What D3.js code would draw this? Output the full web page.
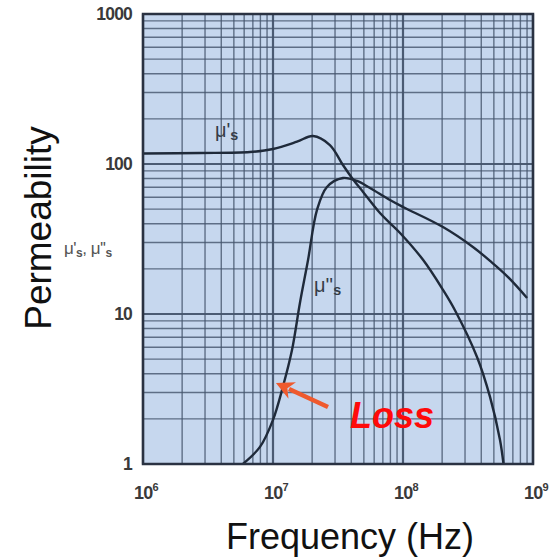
<!DOCTYPE html>
<html>
<head>
<meta charset="utf-8">
<script src="https://cdn.jsdelivr.net/npm/d3@7"></script>
<style>
  body { margin: 0; background: #fff; }
  svg { display: block; }
</style>
</head>
<body>
<svg id="chart"></svg>
<script>
const width = 552;
const height = 557;

const freqReal = [1e6, 2.74e6, 6.65e6, 1e7, 1.53e7, 2.03e7, 2.74e7, 3.45e7, 4.05e7, 4.93e7, 6.65e7, 7.94e7, 9.49e7, 1.43e8, 2.03e8, 2.51e8, 3.71e8, 4.67e8, 5.57e8, 5.93e8];
const muReal   = [117.5, 118.4, 120.2, 125.9, 140.8, 153.7, 133.8, 98.5, 80.7, 65.1, 47.1, 40.4, 34.7, 22.9, 14.5, 10.6, 5.17, 2.8, 1.45, 1.0];

// imaginary permeability μ''s (loss)
const freqLoss = [5.87e6, 7.94e6, 1e7, 1.19e7, 1.4e7, 1.61e7, 1.86e7, 2.18e7, 2.6e7, 3.45e7, 4.43e7, 5.57e7, 7.94e7, 1e8, 2.03e8, 3.45e8, 4.67e8, 6.31e8, 9e8];
const muLoss   = [1.0, 1.3, 1.97, 3.26, 5.75, 11.8, 22.9, 49.4, 70.3, 80.7, 77.1, 69.2, 57.5, 51.7, 38, 28, 22.6, 17.9, 12.8];

const xDecades = [6, 7, 8, 9];
const yTickValues = [1, 10, 100, 1000];

const margin = {top: 14, right: 19, bottom: 93, left: 143};
const innerW = width - margin.left - margin.right;
const innerH = height - margin.top - margin.bottom;

const x = d3.scaleLog().domain([1e6, 1e9]).range([margin.left, margin.left + innerW]);
const y = d3.scaleLog().domain([1, 1000]).range([margin.top + innerH, margin.top]);

const svg = d3.select("#chart")
  .attr("width", width)
  .attr("height", height)
  .attr("viewBox", [0, 0, width, height]);

svg.append("defs").append("clipPath").attr("id", "plot-clip")
  .append("rect")
  .attr("x", margin.left).attr("y", margin.top)
  .attr("width", innerW).attr("height", innerH);

// background
svg.append("rect")
  .attr("x", margin.left).attr("y", margin.top)
  .attr("width", innerW).attr("height", innerH)
  .attr("fill", "#c6d7ee");

// grid lines (1..9 per decade)
const gridColor = "#44546c";
const grid = svg.append("g");
const isDecade = v => Math.abs(Math.log10(v) - Math.round(Math.log10(v))) < 1e-9;

grid.selectAll("line.vx")
  .data(x.ticks())
  .join("line")
  .attr("class", "vx")
  .attr("x1", d => x(d)).attr("x2", d => x(d))
  .attr("y1", margin.top).attr("y2", margin.top + innerH)
  .attr("stroke", gridColor)
  .attr("stroke-opacity", d => isDecade(d) ? 0.95 : 0.8)
  .attr("stroke-width", d => isDecade(d) ? 2.2 : 1.4);

grid.selectAll("line.hy")
  .data(y.ticks())
  .join("line")
  .attr("class", "hy")
  .attr("y1", d => y(d)).attr("y2", d => y(d))
  .attr("x1", margin.left).attr("x2", margin.left + innerW)
  .attr("stroke", gridColor)
  .attr("stroke-opacity", d => isDecade(d) ? 0.95 : 0.8)
  .attr("stroke-width", d => isDecade(d) ? 2.2 : 1.4);

// curves
const line = d3.line()
  .x(d => x(d[0]))
  .y(d => y(d[1]))
  .curve(d3.curveCatmullRom.alpha(0.5));

const curves = svg.append("g").attr("clip-path", "url(#plot-clip)");
curves.append("path")
  .attr("d", line(d3.zip(freqReal, muReal)))
  .attr("fill", "none")
  .attr("stroke", "#1f2a3a")
  .attr("stroke-width", 2.4);
curves.append("path")
  .attr("d", line(d3.zip(freqLoss, muLoss)))
  .attr("fill", "none")
  .attr("stroke", "#1f2a3a")
  .attr("stroke-width", 2.4);

// frame
svg.append("rect")
  .attr("x", margin.left).attr("y", margin.top)
  .attr("width", innerW).attr("height", innerH)
  .attr("fill", "none")
  .attr("stroke", "#2a3242")
  .attr("stroke-width", 2.5);

// axis tick labels
const tickFont = "Liberation Sans, Arial, sans-serif";
svg.append("g")
  .selectAll("text")
  .data(yTickValues)
  .join("text")
  .attr("x", margin.left - 11)
  .attr("y", d => y(d) + 6)
  .attr("text-anchor", "end")
  .attr("font-family", tickFont)
  .attr("font-weight", "bold")
  .attr("font-size", 17.5)
  .attr("letter-spacing", -0.8)
  .attr("fill", "#3a3a3a")
  .text(d => d);

const xLabels = svg.append("g")
  .selectAll("text")
  .data(xDecades)
  .join("text")
  .attr("x", d => x(Math.pow(10, d)) - 9)
  .attr("y", margin.top + innerH + 35)
  .attr("font-family", tickFont)
  .attr("font-weight", "bold")
  .attr("font-size", 18)
  .attr("letter-spacing", -0.8)
  .attr("fill", "#3a3a3a");
xLabels.append("tspan").text("10");
xLabels.append("tspan")
  .attr("dy", -8)
  .attr("font-size", 11)
  .text(d => d);

// axis titles
svg.append("text")
  .attr("transform", `translate(51,${228}) rotate(-90)`)
  .attr("text-anchor", "middle")
  .attr("font-family", "Liberation Sans, Arial, sans-serif")
  .attr("font-size", 37)
  .attr("fill", "#111")
  .text("Permeability");

svg.append("text")
  .attr("x", 350)
  .attr("y", 549)
  .attr("text-anchor", "middle")
  .attr("font-family", "Liberation Sans, Arial, sans-serif")
  .attr("font-size", 36)
  .attr("fill", "#111")
  .text("Frequency (Hz)");

// μ labels
function muLabel(g, px, py, primes, size) {
  const t = g.append("text")
    .attr("x", px).attr("y", py)
    .attr("font-family", "Liberation Sans, Arial, sans-serif")
    .attr("font-size", size)
    .attr("fill", "#353d48");
  t.append("tspan").text("μ" + primes);
  t.append("tspan").attr("dy", 3).attr("font-size", size * 0.72).attr("font-weight", "bold").text("s");
  return t;
}
muLabel(svg, 215, 137, "'", 20);
muLabel(svg, 314, 292, "''", 20);

const yLab = svg.append("text")
  .attr("x", 64).attr("y", 254)
  .attr("font-family", "Liberation Sans, Arial, sans-serif")
  .attr("font-size", 17)
  .attr("letter-spacing", -0.5)
  .attr("fill", "#555");
yLab.append("tspan").text("μ'");
yLab.append("tspan").attr("dy", 3).attr("font-size", 12).attr("font-weight", "bold").text("s");
yLab.append("tspan").attr("dy", -3).text(", μ''");
yLab.append("tspan").attr("dy", 3).attr("font-size", 12).attr("font-weight", "bold").text("s");

// "Loss" annotation with arrow
const arrowColor = "#ef5a2e";
svg.append("defs").append("marker")
  .attr("id", "head")
  .attr("viewBox", "0 0 10 10")
  .attr("refX", 2).attr("refY", 5)
  .attr("markerWidth", 4).attr("markerHeight", 4)
  .attr("orient", "auto")
  .append("path")
  .attr("d", "M0,0 L10,5 L0,10 L3,5 Z")
  .attr("fill", arrowColor);

svg.append("line")
  .attr("x1", 328).attr("y1", 407)
  .attr("x2", 289).attr("y2", 389)
  .attr("stroke", arrowColor)
  .attr("stroke-width", 4.5)
  .attr("marker-end", "url(#head)");

svg.append("text")
  .attr("x", 350).attr("y", 428)
  .attr("font-family", "Liberation Sans, Arial, sans-serif")
  .attr("font-weight", "bold")
  .attr("font-style", "italic")
  .attr("font-size", 36)
  .attr("fill", "#ff0a0a")
  .text("Loss");
</script>
</body>
</html>
